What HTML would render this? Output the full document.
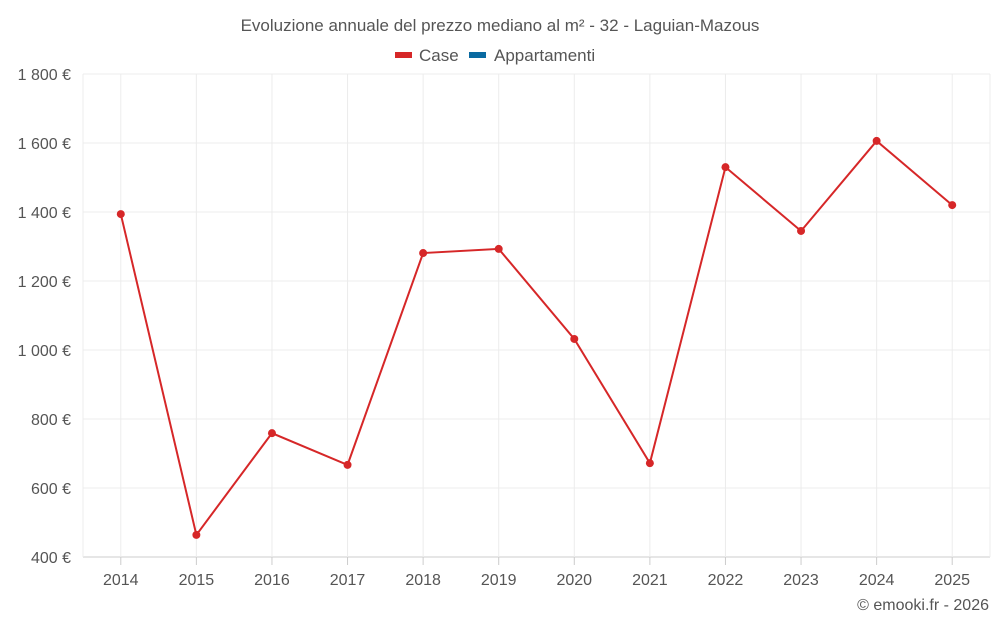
<!DOCTYPE html>
<html><head><meta charset="utf-8"><style>
body{margin:0;background:#fff;font-family:"Liberation Sans",sans-serif;}
svg text{font-family:"Liberation Sans",sans-serif;}
</style></head><body>
<svg id="chart" width="1000" height="625">
<text x="500" y="31" text-anchor="middle" font-size="17" fill="#555">Evoluzione annuale del prezzo mediano al m² - 32 - Laguian-Mazous</text>
<g>
<g><rect x="395" y="52" width="17" height="6" fill="#d62728"/><text x="419" y="61" font-size="17" fill="#555">Case</text></g>
<g><rect x="469" y="52" width="17" height="6" fill="#0a6aa1"/><text x="494" y="61" font-size="17" fill="#555">Appartamenti</text></g>
</g>
<g id="grid"></g>
<g id="axes"></g>
<g id="series"></g>
<text x="989" y="610" text-anchor="end" font-size="16" fill="#555">© emooki.fr - 2026</text>
</svg>
<script>
const categories=["2014","2015","2016","2017","2018","2019","2020","2021","2022","2023","2024","2025"];
const caseValues=[1394,464,759,667,1281,1293,1032,672,1530,1345,1606,1420];
const yTicks=[400,600,800,1000,1200,1400,1600,1800];
const yTickLabels=["400 €","600 €","800 €","1 000 €","1 200 €","1 400 €","1 600 €","1 800 €"];
const L=83,R=990,T=74,B=557,yMin=400,yMax=1800;
const bw=(R-L)/categories.length;
const x=i=>L+bw*(i+0.5);
const y=v=>B-(v-yMin)/(yMax-yMin)*(B-T);
const NS="http://www.w3.org/2000/svg";
function mk(tag,attrs,parent){const e=document.createElementNS(NS,tag);for(const k in attrs)e.setAttribute(k,attrs[k]);parent.appendChild(e);return e;}
const grid=document.getElementById('grid'),axes=document.getElementById('axes'),series=document.getElementById('series');
yTicks.forEach((t,i)=>{
 const ln=mk('line',{x1:L,x2:R,y1:y(t),y2:y(t),stroke:i==0?'#ccc':'#ececec'},grid);
 
 
 const tx=mk('text',{x:71,y:y(t)+6,'text-anchor':'end','font-size':16,fill:'#555'},axes);
 tx.textContent=yTickLabels[i];
 
 
});
const vl=[L,R].concat(categories.map((c,i)=>x(i)));
vl.forEach(v=>{const l=mk('line',{x1:v,x2:v,y1:T,y2:B,stroke:'#ececec'},grid);
 
 });
categories.forEach((c,i)=>{
 const tk=mk('line',{x1:x(i),x2:x(i),y1:B,y2:B+8,stroke:'#ccc'},axes);
 
 
 const tx=mk('text',{x:x(i),y:585,'text-anchor':'middle','font-size':16,fill:'#555'},axes);
 tx.textContent=c;
 
 
});
const pl=mk('polyline',{points:caseValues.map((v,i)=>x(i)+','+y(v)).join(' '),fill:'none',stroke:'#d62728','stroke-width':2},series);


caseValues.forEach((v,i)=>{const c=mk('circle',{cx:x(i),cy:y(v),r:4,fill:'#d62728'},series);
 
 });
</script>
</body></html>
